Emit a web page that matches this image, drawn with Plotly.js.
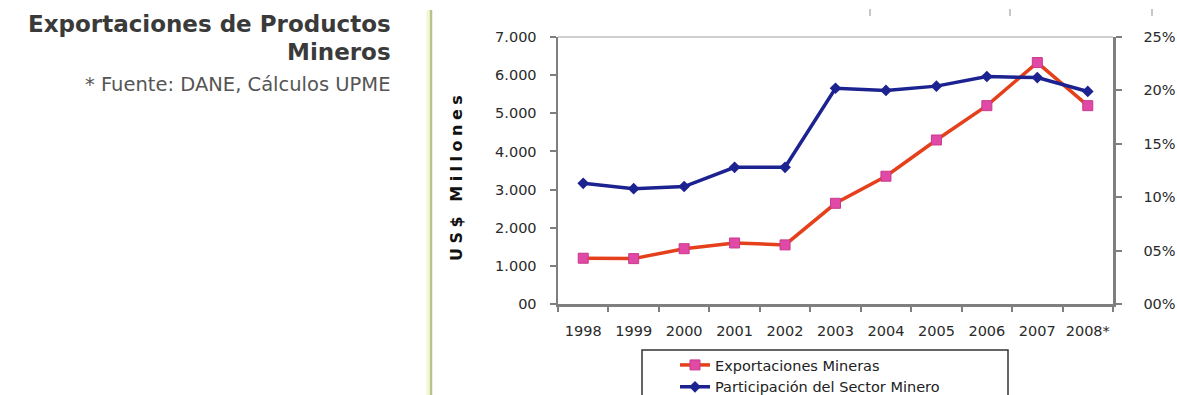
<!DOCTYPE html>
<html>
<head>
<meta charset="utf-8">
<script src="https://cdn.plot.ly/plotly-3.0.1.min.js"></script>
<style>
html,body{margin:0;padding:0;background:#fff;}
#chart{width:1177px;height:395px;}
</style>
</head>
<body>
<div id="chart"></div>
<script>
// ---- data ----
const years = ["1998","1999","2000","2001","2002","2003","2004","2005","2006","2007","2008*"];
const exportaciones = [1200, 1190, 1450, 1600, 1550, 2640, 3350, 4300, 5200, 6330, 5200];
const participacion = [0.113, 0.108, 0.110, 0.128, 0.128, 0.202, 0.200, 0.204, 0.213, 0.212, 0.199];
const leftTickVals = [0, 1000, 2000, 3000, 4000, 5000, 6000, 7000];
const leftTickText = ["00", "1.000", "2.000", "3.000", "4.000", "5.000", "6.000", "7.000"];
const rightTickVals = [0, 0.05, 0.10, 0.15, 0.20, 0.25];
const rightTickText = ["00%", "05%", "10%", "15%", "20%", "25%"];
const seriesNames = ["Exportaciones Mineras", "Participación del Sector Minero"];

// ---- geometry helpers (pixel -> paper, margins are zero) ----
const W = 1177, H = 395;
const px = x => x / W;
const py = y => 1 - y / H;

const tickFont = {family: "DejaVu Sans", size: 14.5, color: "#2a2a2a"};

const traces = [
  {
    x: years, y: exportaciones, name: seriesNames[0], type: "scatter", mode: "lines+markers",
    line: {color: "#e5401c", width: 3.5},
    marker: {symbol: "square", size: 10, color: "#e04aa6", line: {color: "#c83a8a", width: 1}},
    yaxis: "y"
  },
  {
    x: years, y: participacion, name: seriesNames[1], type: "scatter", mode: "lines+markers",
    line: {color: "#1c2390", width: 3.5},
    marker: {symbol: "diamond", size: 9, color: "#1c2390"},
    yaxis: "y2"
  }
];

const layout = {
  width: W, height: H,
  margin: {l: 0, r: 0, t: 0, b: 0, autoexpand: false},
  paper_bgcolor: "#fff", plot_bgcolor: "#fff",
  showlegend: true,
  legend: {
    x: px(675), y: py(349), xanchor: "left", yanchor: "top",
    font: {family: "DejaVu Sans", size: 14.5, color: "#222"},
    bgcolor: "rgba(0,0,0,0)", borderwidth: 0, tracegroupgap: 0
  },
  xaxis: {
    type: "category", domain: [px(558), px(1113)], range: [-0.5, 10.5], automargin: false,
    showline: true, linecolor: "#7f7f7f", linewidth: 2.5,
    ticks: "outside", tickson: "boundaries", ticklen: 5, tickwidth: 2, tickcolor: "#7f7f7f",
    tickfont: tickFont, ticklabelstandoff: 12, tickangle: 0,
    showgrid: false, zeroline: false, fixedrange: true
  },
  yaxis: {
    domain: [py(304), py(37)], range: [0, 7000], automargin: false,
    tickvals: leftTickVals, ticktext: leftTickText,
    showline: true, linecolor: "#7f7f7f", linewidth: 2.5,
    ticks: "outside", ticklen: 6, tickwidth: 2, tickcolor: "#7f7f7f",
    tickfont: tickFont, ticklabelstandoff: 10,
    showgrid: false, zeroline: false, fixedrange: true
  },
  yaxis2: {
    overlaying: "y", side: "right", anchor: "x", range: [0, 0.25], automargin: false,
    tickvals: rightTickVals, ticktext: rightTickText,
    showline: true, linecolor: "#7f7f7f", linewidth: 2.5,
    ticks: "outside", ticklen: 6, tickwidth: 2, tickcolor: "#7f7f7f",
    tickfont: tickFont, ticklabelstandoff: 19,
    showgrid: false, zeroline: false, fixedrange: true
  },
  shapes: [
    // plot area top border
    {type: "line", xref: "paper", yref: "paper", x0: px(558), x1: px(1113), y0: py(37), y1: py(37),
     line: {color: "#a0a0a0", width: 1.2}},
    // divider line
    {type: "line", xref: "paper", yref: "paper", x0: px(428), x1: px(428), y0: py(10), y1: py(398),
     line: {color: "#f4f7cf", width: 3}},
    {type: "line", xref: "paper", yref: "paper", x0: px(431), x1: px(431), y0: py(10), y1: py(398),
     line: {color: "#b7c38a", width: 2.5}},
    // legend box
    {type: "rect", xref: "paper", yref: "paper", x0: px(642), x1: px(1008), y0: py(350), y1: py(405),
     line: {color: "#333", width: 1.5}, fillcolor: "rgba(0,0,0,0)"},
    // faint marks at top
    {type: "line", xref: "paper", yref: "paper", x0: px(870), x1: px(870), y0: py(9), y1: py(16),
     line: {color: "#c8c8c8", width: 2}},
    {type: "line", xref: "paper", yref: "paper", x0: px(1010), x1: px(1010), y0: py(9), y1: py(16),
     line: {color: "#c8c8c8", width: 2}},
    {type: "line", xref: "paper", yref: "paper", x0: px(1152), x1: px(1152), y0: py(9), y1: py(16),
     line: {color: "#c8c8c8", width: 2}}
  ],
  annotations: [
    {text: "Exportaciones de Productos", xref: "paper", yref: "paper", x: px(393), y: py(24),
     xanchor: "right", yanchor: "middle", showarrow: false,
     font: {family: "DejaVu Sans", size: 23, weight: "bold", color: "#3a3a3a"}},
    {text: "Mineros", xref: "paper", yref: "paper", x: px(393), y: py(52),
     xanchor: "right", yanchor: "middle", showarrow: false,
     font: {family: "DejaVu Sans", size: 23, weight: "bold", color: "#3a3a3a"}},
    {text: "* Fuente: DANE, Cálculos UPME", xref: "paper", yref: "paper", x: px(393), y: py(84),
     xanchor: "right", yanchor: "middle", showarrow: false,
     font: {family: "DejaVu Sans", size: 19.5, color: "#555"}},
    {text: "US$ Millones", xref: "paper", yref: "paper", x: px(457), y: py(176),
     xanchor: "center", yanchor: "middle", showarrow: false, textangle: -90,
     font: {family: "DejaVu Sans", size: 16, weight: "bold", color: "#111"}}
  ]
};

Plotly.newPlot("chart", traces, layout, {displayModeBar: false, staticPlot: true}).then(gd => {
  // widen letter spacing of the y-axis caption as in the original
  gd.querySelectorAll(".annotation-text").forEach(t => {
    if (t.textContent === "US$ Millones") t.style.letterSpacing = "4.5px";
  });
});
</script>
</body>
</html>
